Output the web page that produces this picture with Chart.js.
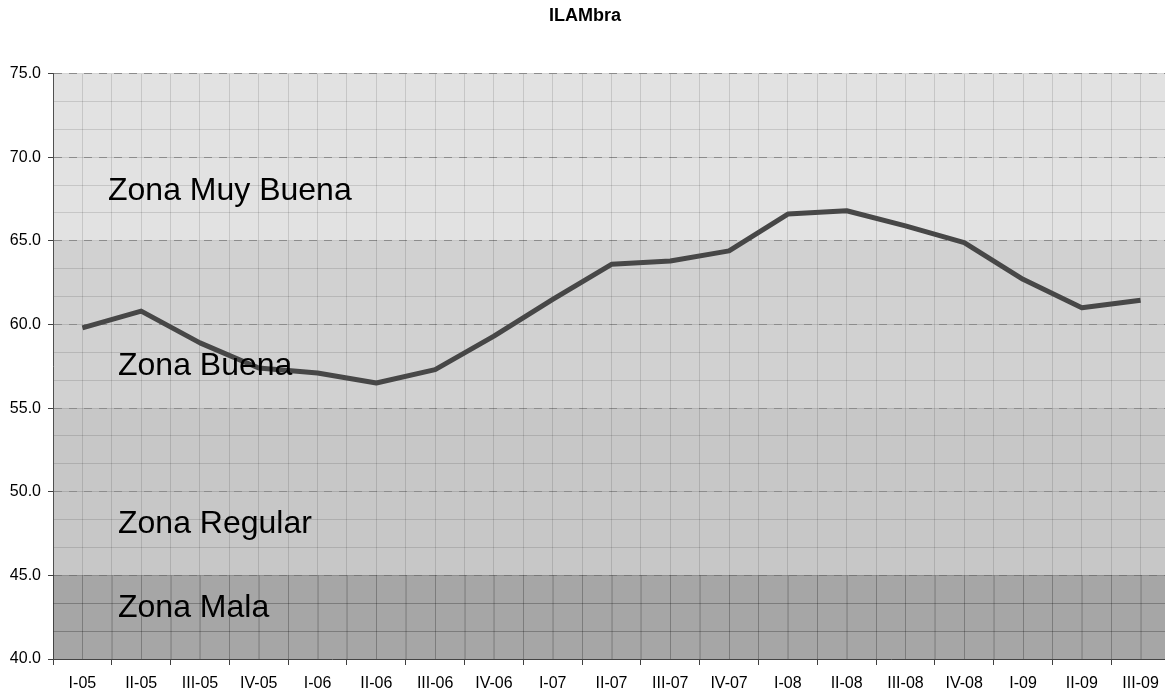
<!DOCTYPE html>
<html>
<head>
<meta charset="utf-8">
<title>ILAMbra</title>
<script src="https://cdn.jsdelivr.net/npm/chart.js@4/dist/chart.umd.min.js"></script>
<style>
  html, body { margin: 0; padding: 0; background: #fff; overflow: hidden; }
  #wrap { position: absolute; left: 0; top: 0; width: 1180px; height: 691px; }
</style>
</head>
<body>
<div id="wrap"><canvas id="chart" width="1180" height="691"></canvas></div>
<script>
// trimestres
const quarters = ['I-05', 'II-05', 'III-05', 'IV-05', 'I-06', 'II-06', 'III-06', 'IV-06',
    'I-07', 'II-07', 'III-07', 'IV-07', 'I-08', 'II-08', 'III-08', 'IV-08', 'I-09', 'II-09', 'III-09'];

// valores del indice
const ilambra = [59.8, 60.8, 58.9, 57.4, 57.1, 56.5, 57.3, 59.3, 61.5, 63.6,
    63.8, 64.4, 66.6, 66.8, 65.9, 64.9, 62.7, 61.0, 61.45];

// zonas
const zoneNames = ['Zona Muy Buena', 'Zona Buena', 'Zona Regular', 'Zona Mala'];
const zoneFrom = [65, 55, 45, 40];
const zoneTo = [75, 65, 55, 45];

// eje y
const yMin = 40;
const yMax = 75;
const yStep = 5;

const FONT = "'Liberation Sans', Arial, sans-serif";

// fondos de las zonas
const zoneColors = ['#e2e2e2', '#d1d1d1', '#c7c7c7', '#a6a6a6'];
// posicion de los textos (valor del eje y de la linea base, desplazamiento x)
const zoneTextAt = [[67.45, 55], [56.95, 65], [47.55, 65], [42.5, 65]];

const zonesPlugin = {
    id: 'zones',
    beforeDraw(chart) {
        const ctx = chart.ctx;
        const area = chart.chartArea;
        const y = chart.scales.y;
        ctx.save();
        zoneNames.forEach((name, i) => {
            const top = y.getPixelForValue(zoneTo[i]);
            const bottom = y.getPixelForValue(zoneFrom[i]);
            ctx.fillStyle = zoneColors[i];
            ctx.fillRect(area.left, top, area.right - area.left, bottom - top);
        });
        ctx.restore();
    },
    // la cuadricula se ve mas oscura en la zona mala
    beforeDatasetsDraw(chart) {
        const ctx = chart.ctx;
        const area = chart.chartArea;
        const y = chart.scales.y;
        const top = y.getPixelForValue(zoneTo[3]);
        const bottom = y.getPixelForValue(zoneFrom[3]);
        ctx.save();
        ctx.strokeStyle = 'rgba(0,0,0,0.14)';
        ctx.lineWidth = 1;
        ctx.beginPath();
        chart.scales.xg.ticks.forEach(t => {
            const px = Math.round(chart.scales.xg.getPixelForValue(t.value)) + 0.5;
            ctx.moveTo(px, top);
            ctx.lineTo(px, bottom);
        });
        chart.scales.yg.ticks.forEach(t => {
            if (t.value > zoneTo[3] + 1e-9) return;
            const py = Math.round(chart.scales.yg.getPixelForValue(t.value)) + 0.5;
            ctx.moveTo(area.left, py);
            ctx.lineTo(area.right, py);
        });
        ctx.stroke();
        ctx.restore();
    },
    afterDraw(chart) {
        const ctx = chart.ctx;
        const area = chart.chartArea;
        const y = chart.scales.y;
        ctx.save();
        ctx.font = '32px ' + FONT;
        ctx.fillStyle = '#000';
        ctx.textBaseline = 'alphabetic';
        ctx.textAlign = 'left';
        zoneNames.forEach((name, i) => {
            ctx.fillText(name, area.left + zoneTextAt[i][1], y.getPixelForValue(zoneTextAt[i][0]));
        });
        ctx.restore();
    }
};

const ctx = document.getElementById('chart').getContext('2d');

new Chart(ctx, {
    type: 'line',
    data: {
        labels: quarters,
        datasets: [{
            label: 'ILAMbra',
            data: ilambra,
            xAxisID: 'x',
            yAxisID: 'y',
            borderColor: '#474747',
            borderWidth: 5,
            borderJoinStyle: 'round',
            pointRadius: 0,
            pointHoverRadius: 0,
            tension: 0,
            fill: false
        }]
    },
    options: {
        responsive: false,
        animation: false,
        devicePixelRatio: 1,
        layout: { padding: { left: 0, right: 10, top: 0, bottom: 0 } },
        plugins: {
            legend: { display: false },
            tooltip: { enabled: false },
            title: {
                display: true,
                text: 'ILAMbra',
                color: '#000',
                font: { family: FONT, size: 18, weight: 'bold' },
                padding: { top: 5, bottom: 47 }
            }
        },
        scales: {
            x: {
                type: 'category',
                offset: true,
                afterFit: s => { s.height = 32; },
                grid: {
                    offset: true,
                    drawOnChartArea: false,
                    drawTicks: true,
                    tickLength: 6,
                    color: '#404040'
                },
                border: { display: true, color: '#505050', width: 1 },
                ticks: {
                    color: '#000',
                    font: { family: FONT, size: 16 },
                    padding: 9,
                    maxRotation: 0,
                    autoSkip: false
                }
            },
            y: {
                type: 'linear',
                position: 'left',
                min: yMin,
                max: yMax,
                afterFit: s => { s.width = 53; },
                grid: {
                    color: '#a0a0a0',
                    tickColor: '#404040',
                    tickLength: 5,
                    tickBorderDash: []
                },
                border: { display: true, color: '#505050', width: 1, dash: [8, 7] },
                ticks: {
                    stepSize: yStep,
                    color: '#000',
                    font: { family: FONT, size: 16 },
                    padding: 7,
                    callback: v => v.toFixed(1)
                }
            },
            // cuadricula de fondo (papel milimetrado)
            xg: {
                type: 'linear',
                position: 'top',
                min: -0.5,
                max: quarters.length - 0.5,
                afterBuildTicks: s => {
                    s.ticks = [];
                    for (let v = -0.5; v <= quarters.length - 0.5 + 1e-9; v += 0.5) s.ticks.push({ value: v });
                },
                ticks: { display: false },
                border: { display: false },
                grid: { color: 'rgba(0,0,0,0.12)', drawTicks: false }
            },
            yg: {
                type: 'linear',
                position: 'right',
                min: yMin,
                max: yMax,
                afterBuildTicks: s => {
                    s.ticks = [];
                    for (let k = 0; k <= 21; k++) s.ticks.push({ value: yMin + k * yStep / 3 });
                },
                ticks: { display: false },
                border: { display: false },
                grid: { color: 'rgba(0,0,0,0.12)', drawTicks: false }
            }
        }
    },
    plugins: [zonesPlugin]
});
</script>
</body>
</html>
